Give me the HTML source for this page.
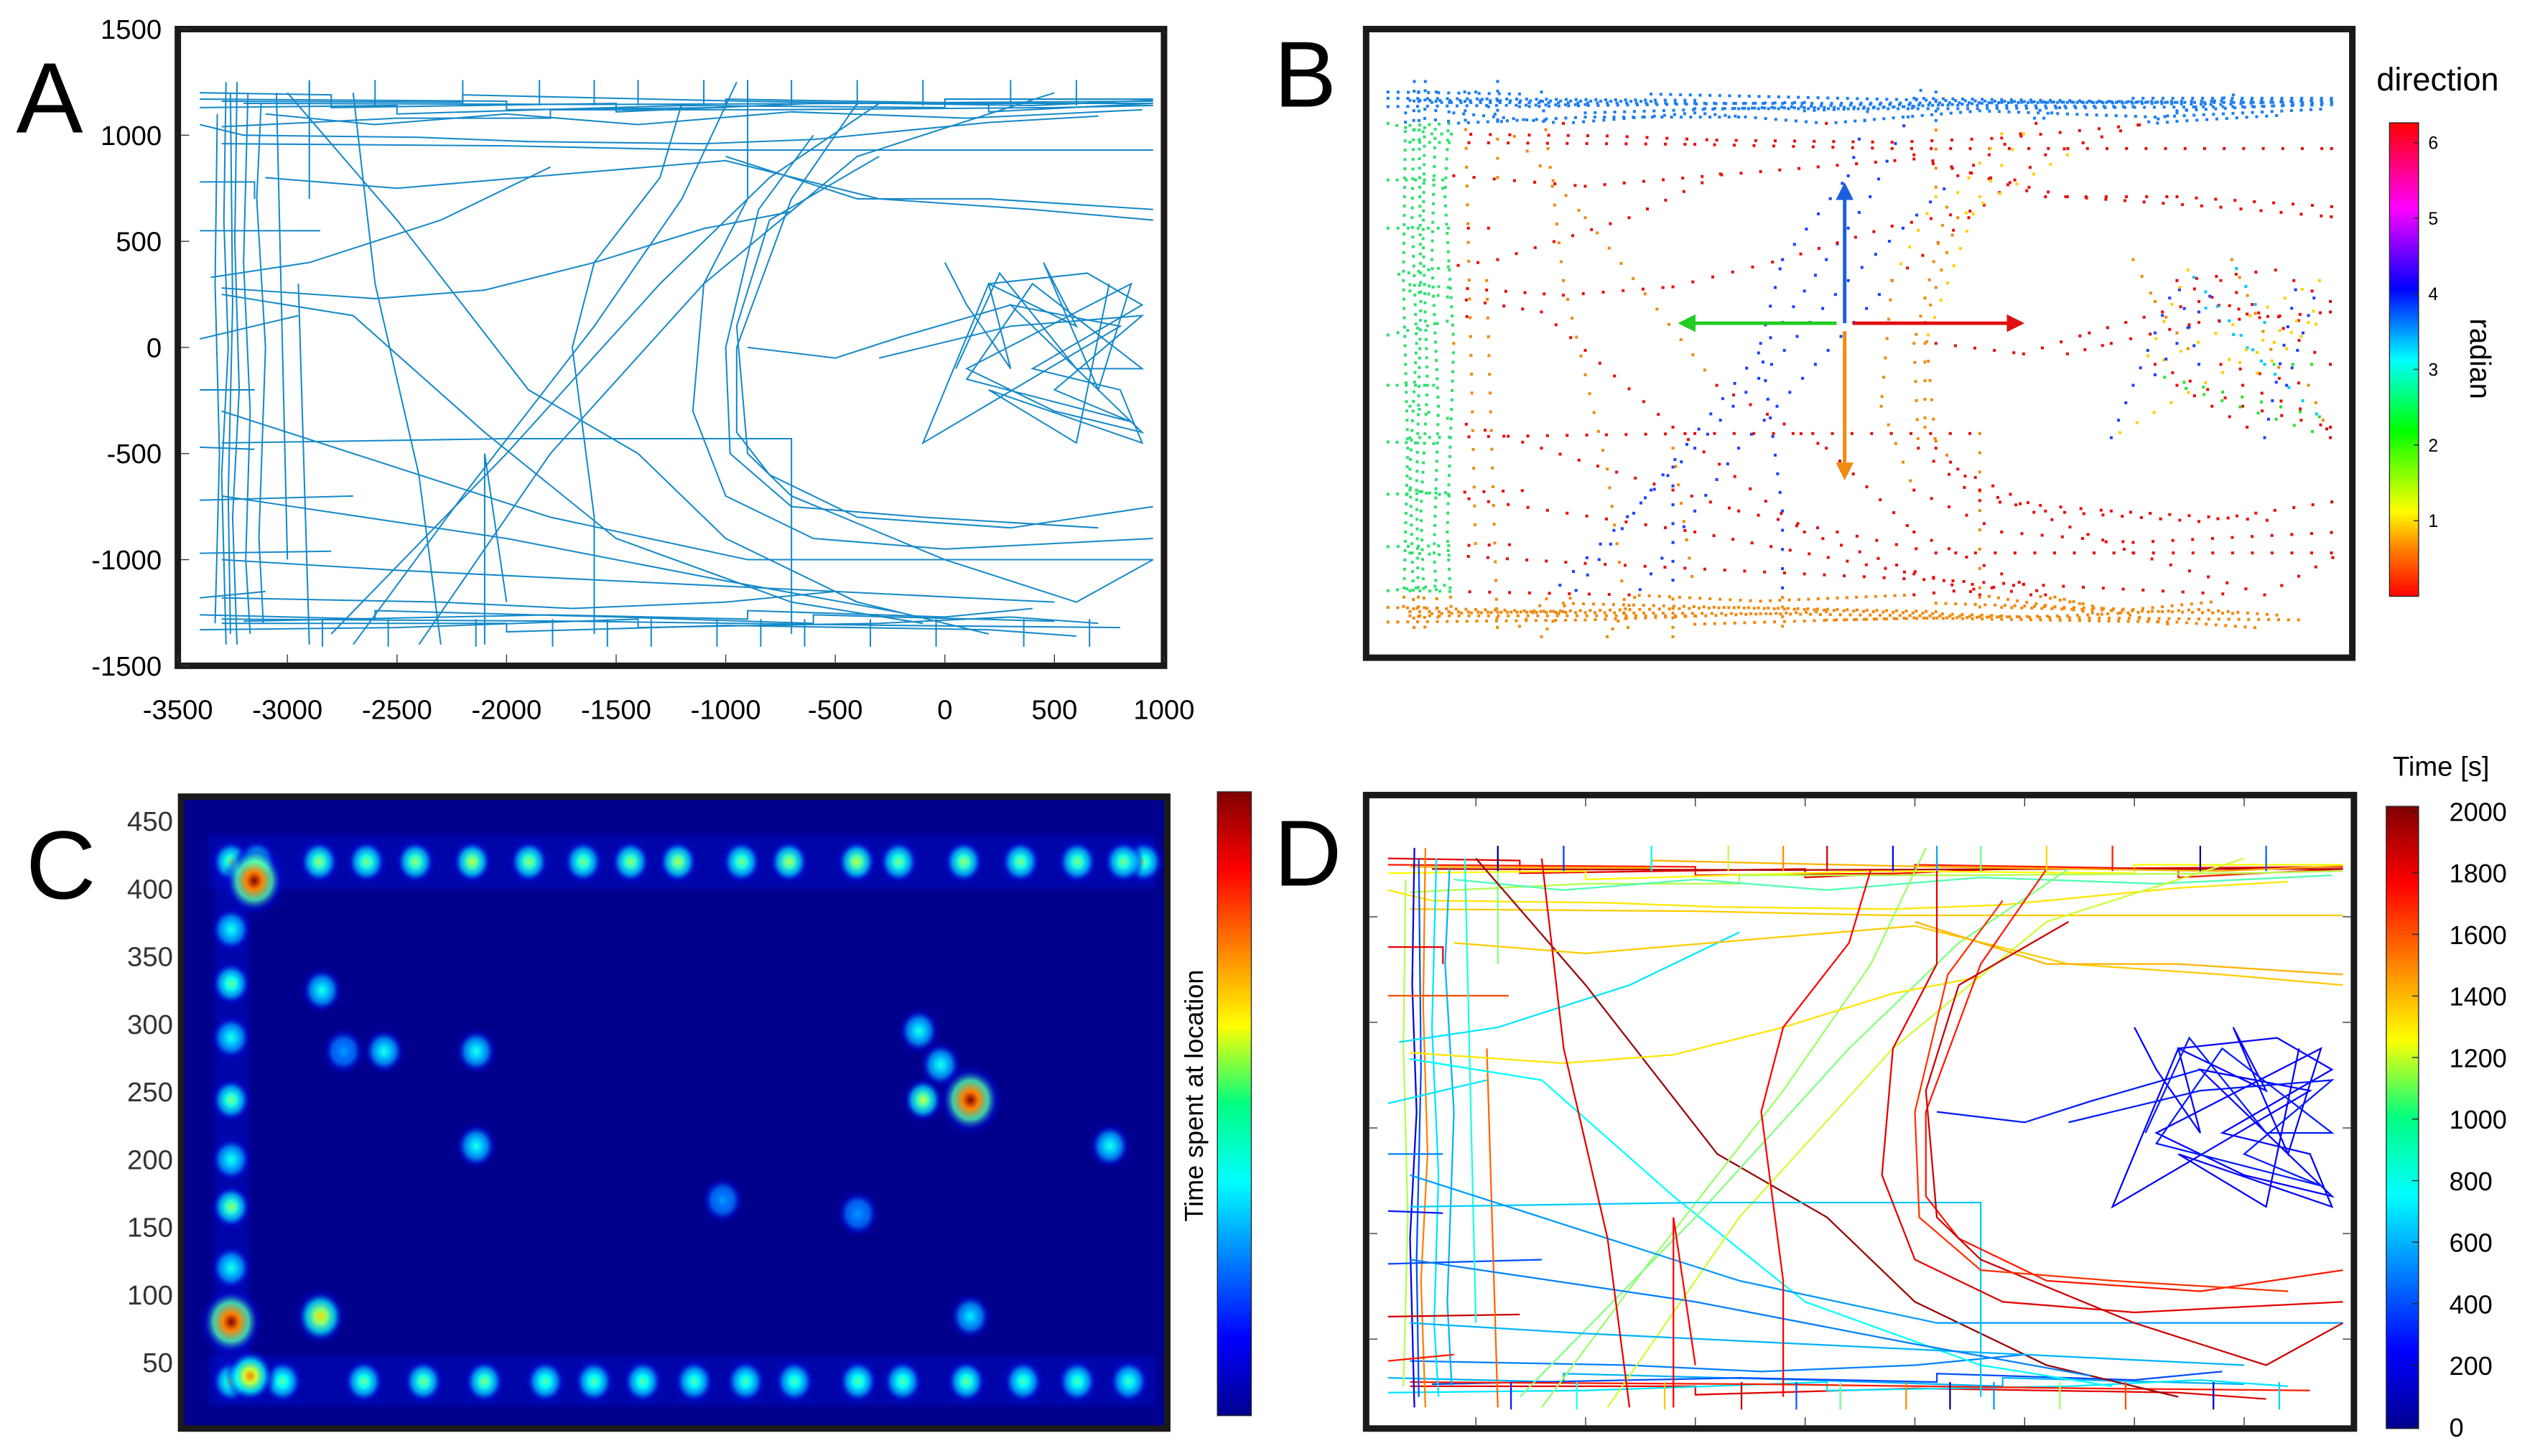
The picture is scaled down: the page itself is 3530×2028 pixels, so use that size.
<!DOCTYPE html>
<html><head><meta charset="utf-8"><style>
html,body{margin:0;padding:0;background:#fff;}
svg{display:block;font-family:"Liberation Sans",sans-serif;}
</style></head><body>
<svg id="fig" width="3530" height="2028" viewBox="0 0 1568 901" preserveAspectRatio="none" xmlns="http://www.w3.org/2000/svg">
<defs id="defs">
<clipPath id="clipA"><rect x="110" y="18" width="610" height="394"/></clipPath>
<clipPath id="clipB"><rect x="845" y="18" width="610" height="389"/></clipPath>
<clipPath id="clipC"><rect x="112" y="493" width="610" height="391"/></clipPath>
<clipPath id="clipD"><rect x="845" y="492" width="611" height="392"/></clipPath>
<linearGradient id="jetV" x1="0" y1="1" x2="0" y2="0">
<stop offset="0" stop-color="#00008f"/><stop offset="0.125" stop-color="#0000ff"/><stop offset="0.375" stop-color="#00ffff"/><stop offset="0.5" stop-color="#00ff80"/><stop offset="0.625" stop-color="#ffff00"/><stop offset="0.875" stop-color="#ff0000"/><stop offset="1" stop-color="#800000"/></linearGradient>
<linearGradient id="dirV" x1="0" y1="1" x2="0" y2="0">
<stop offset="0" stop-color="#ff0000"/><stop offset="0.1" stop-color="#ff8000"/><stop offset="0.18" stop-color="#ffff00"/><stop offset="0.35" stop-color="#00ff00"/><stop offset="0.5" stop-color="#00ffff"/><stop offset="0.65" stop-color="#0000ff"/><stop offset="0.82" stop-color="#ff00ff"/><stop offset="1" stop-color="#ff0000"/></linearGradient>
<marker id="arrB" viewBox="0 0 10 10" refX="8" refY="5" markerWidth="5" markerHeight="5" orient="auto"><path d="M0,0L10,5L0,10z" fill="#1a5fe0"/></marker>
<marker id="arrG" viewBox="0 0 10 10" refX="8" refY="5" markerWidth="5" markerHeight="5" orient="auto"><path d="M0,0L10,5L0,10z" fill="#22cc22"/></marker>
<marker id="arrR" viewBox="0 0 10 10" refX="8" refY="5" markerWidth="5" markerHeight="5" orient="auto"><path d="M0,0L10,5L0,10z" fill="#e01010"/></marker>
<marker id="arrO" viewBox="0 0 10 10" refX="8" refY="5" markerWidth="5" markerHeight="5" orient="auto"><path d="M0,0L10,5L0,10z" fill="#f08a10"/></marker>
<filter id="blurC" x="-10%" y="-10%" width="120%" height="120%"><feGaussianBlur stdDeviation="1.5"/></filter>
</defs>

<text x="10" y="82" font-size="62">A</text>
<text x="788" y="66" font-size="58">B</text>
<text x="16" y="556" font-size="60">C</text>
<text x="788" y="548" font-size="58">D</text>

<g id="panelA"></g>
<g id="panelB"></g>
<g id="panelC"></g>
<g id="panelD"></g>
</svg>
<script>
// ---------- data ----------
const xTicksA = [-3500,-3000,-2500,-2000,-1500,-1000,-500,0,500,1000];
const yTicksA = [1500,1000,500,0,-500,-1000,-1500];
const trajTop = [
 [[-3400,1200],[-2800,1190],[-2800,1130],[-1500,1150],[-1500,1110],[-600,1150],[950,1160]],
 [[-3400,1170],[-2000,1160],[-2000,1120],[-1000,1130],[-1000,1170],[200,1150],[200,1110],[950,1150]],
 [[-3400,1130],[-2500,1140],[-2500,1100],[-1200,1140],[0,1130],[0,1170],[950,1170]],
 [[-3300,1040],[-2500,1080],[-1800,1080],[-1800,1120],[-800,1120],[500,1130],[950,1140]],
 [[-3200,1150],[-1600,1145],[-300,1150],[950,1150]],
 [[-3300,1160],[-2200,1155],[-2200,1190],[-900,1160],[400,1140],[950,1165]],
 [[-3400,1050],[-3200,1000],[-2400,990],[-1900,970],[-1100,960],[-600,980],[200,1060],[700,1090]],
 [[-3300,960],[-2000,950],[-1100,930],[950,930]],
 [[-3100,1100],[-2600,1050],[-2000,1100],[-1400,1050],[-700,1110],[100,1080],[900,1120]]
];
const trajBottom = [
 [[-3400,-1260],[-2600,-1280],[-2600,-1240],[-1500,-1270],[-600,-1300],[-600,-1260],[500,-1290]],
 [[-3300,-1300],[-2000,-1300],[-2000,-1340],[-1000,-1310],[200,-1330],[600,-1360]],
 [[-3400,-1330],[-2500,-1320],[-1400,-1280],[-1400,-1320],[-300,-1300],[300,-1270],[700,-1300]],
 [[-3200,-1290],[-1800,-1260],[-900,-1280],[-900,-1240],[0,-1270],[400,-1230]],
 [[-3300,-1280],[-1700,-1290],[-200,-1310],[800,-1320]],
 [[-3300,-1180],[-2300,-1200],[-1700,-1230],[-1000,-1200],[-500,-1150],[-400,-1200]]
];
const trajLeft = [
 [[-3280,1250],[-3290,600],[-3270,0],[-3300,-600],[-3280,-1400]],
 [[-3230,1250],[-3240,500],[-3220,-200],[-3250,-800],[-3230,-1400]],
 [[-3180,1200],[-3200,400],[-3170,-300],[-3190,-1000],[-3170,-1350]],
 [[-3320,1100],[-3330,300],[-3310,-500],[-3330,-1300]],
 [[-3120,1150],[-3140,700],[-3100,0],[-3130,-900],[-3110,-1300]],
 [[-3260,1200],[-3250,200],[-3270,-700],[-3260,-1350]],
 [[-3400,780],[-3150,780],[-3150,700]],[[-3400,550],[-2850,550]],[[-3400,40],[-2950,150]],
 [[-3400,-200],[-3150,-200]],[[-3400,-470],[-3150,-480]],[[-3400,-720],[-2700,-700]],
 [[-3400,-970],[-2800,-960]],[[-3400,-1180],[-3100,-1150]],
 [[-2900,1250],[-2900,700]],[[-2950,300],[-2900,-1400]],[[-3050,1200],[-3000,-1000]]
];
const trajCross = [
 [[-3350,330],[-2900,400],[-2300,600],[-1800,850]],
 [[-3000,1200],[-2500,600],[-1900,-200],[-1400,-500],[-1000,-900],[-400,-1200],[200,-1350]],
 [[-3300,250],[-2700,150],[-2100,-400],[-1500,-900],[-700,-1200],[-100,-1300]],
 [[-2700,-1400],[-2200,-700],[-1600,100],[-1200,700],[-950,1250]],
 [[-2800,-1350],[-2000,-500],[-1300,300],[-800,800],[-300,1150]],
 [[-2400,-1400],[-1800,-500],[-1100,300],[-400,900],[500,1200]],
 [[-3300,-450],[-2000,-430],[-700,-430],[-700,-1350]],
 [[-3300,-1000],[-2500,-1050],[-1500,-1100],[-500,-1150],[500,-1200]],
 [[-3300,-700],[-2000,-900],[-1000,-1100],[-200,-1250]],
 [[-3100,800],[-2500,750],[-1700,820],[-1000,880],[-300,700],[400,650],[950,600]],
 [[-1000,900],[-400,700],[200,700],[950,650]],
 [[-3300,-300],[-2700,-500],[-1800,-800],[-900,-1000],[950,-1000]],
 [[-3300,280],[-2600,230],[-2100,270],[-1600,400],[-1100,560],[-700,640]],
 [[-2700,1200],[-2600,300],[-2400,-600],[-2300,-1400]],
 [[-2100,-1400],[-2100,-500],[-2000,-1200]]
];
const trajC = [
 [[-1600,-1350],[-1600,-800],[-1700,0],[-1600,400],[-1300,800],[-1200,1150]],
 [[-900,1200],[-900,700],[-1100,300],[-1150,-300],[-1000,-700],[-600,-900],[0,-950],[950,-900]],
 [[-400,1150],[-700,700],[-950,0],[-950,-400],[-800,-600],[-400,-800],[300,-850],[950,-750]],
 [[-300,900],[-800,600],[-950,100],[-900,-500],[-700,-700],[0,-1000],[600,-1200],[950,-1000]],
 [[-600,1000],[-850,650],[-1000,0],[-980,-500],[-700,-750],[-100,-800],[700,-850]],
 [[-900,0],[-500,-50],[-200,50],[300,200]]
];
const trajCluster = [
 [[0,400],[100,200],[300,-100],[200,300],[600,100],[450,400],[700,-200],[850,300],[100,-100],[500,-300],[900,-400],[300,200],[800,100],[-100,-450],[200,300],[650,350],[900,200],[400,-100],[800,-200],[900,-450],[200,-200],[600,-450],[750,300]],
 [[-300,-50],[-100,0],[300,100],[900,150],[500,-200],[850,-350],[100,-150],[400,300],[900,-100],[600,-100],[250,350],[50,-100]]
];
const timeTop = [1800,1700,1250,1100,1900,1400,1300,1350,900];
const timeBottom = [600,1800,700,400,1700,500];
const timeLeft = [200,1500,700,1100,600,400,1800,1600,700,500,300,400,1850,1700,1000,1550,800];
const timeCross = [700,1950,750,1050,1000,1150,650,600,500,1350,1400,550,1300,1800,1750];
const timeC = [1750,1800,1700,1850,1650,300];
const timeCluster = [250,300];
const heatX = [54,37,51,103,583,548,37,56,102,137,173,215,257,297,332,367,414,449,499,530,578,620,662,696,711,
  37,75,135,179,224,269,305,341,379,417,453,500,533,580,622,662,700, 37,37,37,37,37,37,37, 104,150,218,218,686,583,545,561,120,500,400];
const heatY = [406,80,40,84,244,244,420,420,420,420,420,420,420,420,420,420,420,420,420,420,420,420,420,420,420,
  36,36,36,36,36,36,36,36,36,36,36,36,36,36,36,36,36, 370,330,290,244,200,165,120, 325,280,280,210,210,84,295,270,280,160,170];
const heatV = [1.0,1.0,0.7,0.6,1.0,0.5,0.42,0.45,0.45,0.42,0.45,0.5,0.45,0.42,0.45,0.48,0.42,0.48,0.5,0.42,0.45,0.42,0.42,0.42,0.4,
  0.4,0.38,0.4,0.42,0.42,0.38,0.38,0.38,0.36,0.36,0.36,0.38,0.38,0.4,0.36,0.36,0.34, 0.3,0.4,0.3,0.42,0.3,0.45,0.3, 0.3,0.3,0.3,0.3,0.3,0.25,0.3,0.3,0.15,0.15,0.15];
const cTicks = [450,400,350,300,250,200,150,100,50];
const dTicks = [2000,1800,1600,1400,1200,1000,800,600,400,200,0];
const bTicks = [6,5,4,3,2,1];

// ---------- helpers ----------
const NS="http://www.w3.org/2000/svg";
function mk(tag,parent,attrs){const e=document.createElementNS(NS,tag);for(const k in attrs)e.setAttribute(k,attrs[k]);parent.appendChild(e);return e;}
function jet(v){v=Math.max(0,Math.min(1,v));
 const r=Math.max(0,Math.min(1,1.5-Math.abs(4*v-3))),g=Math.max(0,Math.min(1,1.5-Math.abs(4*v-2))),b=Math.max(0,Math.min(1,1.5-Math.abs(4*v-1)));
 return `rgb(${Math.round(r*255)},${Math.round(g*255)},${Math.round(b*255)})`;}
const ax=x=>110+(x+3500)/4500*610, ay=y=>18+(1500-y)/3000*394;
const bx=x=>845+(x+3500)/4500*610, by=y=>18+(1500-y)/3000*389;
const dx=x=>845+(x+3500)/4500*611, dy=y=>492+(1500-y)/3000*392;
const cx=u=>112+u*0.8375, cy=u=>885-u*0.8375;
const groups=[trajTop,trajBottom,trajLeft,trajCross,trajC,trajCluster];
const times=[timeTop,timeBottom,timeLeft,timeCross,timeC,timeCluster];

// ---------- Panel A ----------
const A=document.getElementById('panelA');
const aLines=mk('g',A,{'clip-path':'url(#clipA)'});
groups.forEach(g=>g.forEach(t=>{
 const p=mk('polyline',aLines,{points:t.map(q=>ax(q[0])+','+ay(q[1])).join(' '),fill:'none',stroke:'#1589c8','stroke-width':0.9});
 
 
}));
[-2900,-2600,-2200,-1850,-1600,-1400,-1100,-900,-700,-400,-100,300,600].forEach(x=>{
 mk('line',aLines,{x1:ax(x),y1:ay(1260),x2:ax(x),y2:ay(1140),stroke:'#1589c8','stroke-width':0.9});
 mk('line',aLines,{x1:ax(x+60),y1:ay(-1410),x2:ax(x+60),y2:ay(-1280),stroke:'#1589c8','stroke-width':0.9});
});
const fa=mk('rect',A,{x:110,y:18,width:610,height:394,fill:'none',stroke:'#1a1a1a','stroke-width':4});

yTicksA.forEach(v=>{const t=mk('text',A,{x:100,y:ay(v)+6,'text-anchor':'end','font-size':17});t.textContent=v;
 
 mk('line',A,{x1:112,y1:ay(v),x2:117,y2:ay(v),stroke:'#333','stroke-width':0.6});});
xTicksA.forEach(v=>{const t=mk('text',A,{x:ax(v),y:445,'text-anchor':'middle','font-size':17});t.textContent=v;
 
 mk('line',A,{x1:ax(v),y1:410,x2:ax(v),y2:405,stroke:'#333','stroke-width':0.6});});

// ---------- Panel B ----------
const B=document.getElementById('panelB');
const bPts=mk('g',B,{'clip-path':'url(#clipB)'});
function nearWall(x,y){return y>1050||y<-1200||x<-3100||x>880;}
function dirColor(dxv,dyv,x,y){
 if(y>1050) return '#1e7ef0'; if(y<-1200) return '#f08a10'; if(x<-3100) return '#30e070'; if(x>880) return '#d01010';
 const a=Math.atan2(dyv,dxv);
 const deg=(a*180/Math.PI+360)%360;
 const stops=[[0,'#e81010'],[90,'#2040ff'],[135,'#00c8ff'],[180,'#30e030'],[235,'#ffd000'],[270,'#f08a10'],[360,'#e81010']];
 for(let i=0;i<stops.length-1;i++) if(deg<=stops[i+1][0]) return (deg-stops[i][0]<stops[i+1][0]-deg)?stops[i][1]:stops[i+1][1];
 return '#e81010';}
groups.forEach(g=>g.forEach(t=>{
 for(let i=0;i<t.length-1;i++){
  const [x0,y0]=t[i],[x1,y1]=t[i+1];const L=Math.hypot(x1-x0,y1-y0);const n=Math.max(1,Math.round(L/45));
  for(let k=0;k<n;k++){const x=x0+(x1-x0)*k/n,y=y0+(y1-y0)*k/n;
   if(!nearWall(x,y) && k%2===1) continue;
   const c=mk('rect',bPts,{x:bx(x)-0.9,y:by(y)-0.9,width:1.8,height:1.8,fill:dirColor(x1-x0,y1-y0,x,y)});
   }
 }}));
const fb=mk('rect',B,{x:845,y:18,width:610,height:389,fill:'none',stroke:'#1a1a1a','stroke-width':4});

[[1141,200,1141,115,'#1a5fe0','arrB','arrow-up'],[1136,200,1040,200,'#22cc22','arrG','arrow-left'],[1146,200,1250,200,'#e01010','arrR','arrow-right'],[1141,205,1141,295,'#f08a10','arrO','arrow-down']].forEach(a=>{
 const l=mk('line',B,{x1:a[0],y1:a[1],x2:a[2],y2:a[3],stroke:a[4],'stroke-width':2.2,'marker-end':'url(#'+a[5]+')'});
 });
const cbB=mk('rect',B,{x:1478,y:76,width:18,height:293,fill:'url(#dirV)',stroke:'#222','stroke-width':0.6});

bTicks.forEach(v=>{const y=369-v*46.8;const t=mk('text',B,{x:1502,y:y+4,'font-size':11});t.textContent=v;
 
 mk('line',B,{x1:1493,y1:y,x2:1496,y2:y,stroke:'#222','stroke-width':0.6});});
let tt=mk('text',B,{x:1470,y:56,'font-size':20});tt.textContent='direction';
tt=mk('text',B,{x:1528,y:222,'font-size':18,'text-anchor':'middle',transform:'rotate(90 1528 222)'});tt.textContent='radian';

// ---------- Panel C ----------
const C=document.getElementById('panelC');
const defs=document.getElementById('defs');
const cg=mk('g',C,{'clip-path':'url(#clipC)'});
mk('rect',cg,{x:112,y:493,width:610,height:391,fill:'#00008c'});
mk('rect',cg,{x:cx(20),y:cy(440),width:cx(720)-cx(20),height:cy(400)-cy(440),fill:'#0010d0',opacity:0.45,filter:'url(#blurC)'});
mk('rect',cg,{x:cx(20),y:cy(55),width:cx(720)-cx(20),height:cy(18)-cy(55),fill:'#0010d0',opacity:0.45,filter:'url(#blurC)'});
mk('rect',cg,{x:cx(25),y:cy(420),width:cx(50)-cx(25),height:cy(30)-cy(420),fill:'#0010d0',opacity:0.45,filter:'url(#blurC)'});
const heatOrder=heatV.map((v,i)=>i).sort((a,b)=>heatV[a]-heatV[b]);
heatOrder.forEach(i=>{
 const u=heatX[i];const v=heatV[i];const id='hg'+i;
 const g=mk('radialGradient',defs,{id:id});
 mk('stop',g,{offset:'0','stop-color':jet(0.15+v*0.85),'stop-opacity':1});
 mk('stop',g,{offset:'0.25','stop-color':jet(0.15+v*0.6),'stop-opacity':1});
 mk('stop',g,{offset:'0.55','stop-color':jet(0.2+v*0.25),'stop-opacity':0.8});
 mk('stop',g,{offset:'0.8','stop-color':'#0010e0','stop-opacity':0.45});
 mk('stop',g,{offset:'1','stop-color':'#0000c0','stop-opacity':0});
 const r=v>0.9?20:(v>0.55?16:13);
 const e=mk('ellipse',cg,{cx:cx(u),cy:cy(heatY[i]),rx:r,ry:r*1.1,fill:'url(#'+id+')'});
 });
const fc=mk('rect',C,{x:112,y:493,width:610,height:391,fill:'none',stroke:'#1a1a1a','stroke-width':4});

cTicks.forEach(v=>{const t=mk('text',C,{x:107,y:cy(v)+6,'text-anchor':'end','font-size':17,fill:'#333'});t.textContent=v;
 });
const cbC=mk('rect',C,{x:753,y:490,width:21,height:386,fill:'url(#jetV)',stroke:'#222','stroke-width':0.6});

tt=mk('text',C,{x:744,y:678,'font-size':16,'text-anchor':'middle',transform:'rotate(-90 744 678)'});tt.textContent='Time spent at location';

// ---------- Panel D ----------
const D=document.getElementById('panelD');
const dl=mk('g',D,{'clip-path':'url(#clipD)'});
groups.forEach((g,gi)=>g.forEach((t,ti)=>{
 const p=mk('polyline',dl,{points:t.map(q=>dx(q[0])+','+dy(q[1])).join(' '),fill:'none',stroke:jet(times[gi][ti]/2000),'stroke-width':1});
 
 }));
[-2900,-2600,-2200,-1850,-1600,-1400,-1100,-900,-700,-400,-100,300,600].forEach((x,i)=>{
 mk('line',dl,{x1:dx(x),y1:dy(1260),x2:dx(x),y2:dy(1140),stroke:jet(((i*370)%2000)/2000),'stroke-width':1});
 mk('line',dl,{x1:dx(x+60),y1:dy(-1410),x2:dx(x+60),y2:dy(-1280),stroke:jet(((i*530+300)%2000)/2000),'stroke-width':1});});
const fd=mk('rect',D,{x:845,y:492,width:611,height:392,fill:'none',stroke:'#1a1a1a','stroke-width':4});

for(let i=1;i<9;i++){const x=845+i*611/9;mk('line',D,{x1:x,y1:494,x2:x,y2:499,stroke:'#333','stroke-width':0.6});mk('line',D,{x1:x,y1:882,x2:x,y2:877,stroke:'#333','stroke-width':0.6});}
for(let i=1;i<6;i++){const y=492+i*392/6+10;mk('line',D,{x1:847,y1:y,x2:852,y2:y,stroke:'#333','stroke-width':0.6});mk('line',D,{x1:1454,y1:y,x2:1449,y2:y,stroke:'#333','stroke-width':0.6});}
const cbD=mk('rect',D,{x:1476,y:499,width:20,height:385,fill:'url(#jetV)',stroke:'#222','stroke-width':0.6});

dTicks.forEach(v=>{const y=883-v/2000*381;const t=mk('text',D,{x:1515,y:y+6,'font-size':16});t.textContent=v;
 
 mk('line',D,{x1:1492,y1:y,x2:1496,y2:y,stroke:'#222','stroke-width':0.6});});
tt=mk('text',D,{x:1480,y:480,'font-size':17});tt.textContent='Time [s]';
</script>
</body></html>
